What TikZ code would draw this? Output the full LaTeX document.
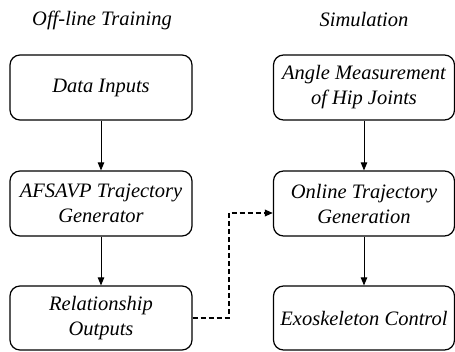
\documentclass[tikz,border=0pt]{standalone}
\usepackage{fontspec}
\setmainfont{Liberation Serif}[ItalicFont={Liberation Serif Italic}]
\usetikzlibrary{arrows.meta}
\begin{document}
\begin{tikzpicture}[x=1pt,y=1pt,
    box/.style={draw,line width=1.2pt,rounded corners=10pt,minimum width=182pt,
      minimum height=65pt,align=center,inner sep=0pt,
      font=\fontsize{20.5}{25}\selectfont\itshape},
    title/.style={font=\fontsize{20.5}{25}\selectfont\itshape},
    flow/.style={line width=0.9pt,-{Triangle[length=8pt,width=6.5pt]}},
    link/.style={flow,line width=1.8pt,dash pattern=on 5pt off 3pt}]
  \useasboundingbox (0,0) rectangle (455,351);
  \node[title] (offline) at (102,331) {Off-line Training};
  \node[title] (simul) at (364,331) {Simulation};
  % left column
  \node[box] (data) at (101,263.5) {Data Inputs};
  \node[box] (afsavp) at (101,147.5) {AFSAVP Trajectory\\Generator};
  \node[box,minimum height=64pt] (relation) at (101,33) {Relationship\\Outputs};
  % right column
  \node[box,minimum width=181pt] (angle) at (364,263.5) {Angle Measurement\\of Hip Joints};
  \node[box,minimum width=181pt] (online) at (364,147.5) {Online Trajectory\\Generation};
  \node[box,minimum width=181pt,minimum height=64pt] (exo) at (364,33) {Exoskeleton Control};
  \foreach \a/\b in {data/afsavp,afsavp/relation,angle/online,online/exo}
    \draw[flow] (\a) -- (\b);
  \draw[link] (relation.east) -- ++(36,0) |- ([yshift=-9.5pt]online.west);
\end{tikzpicture}
\end{document}
